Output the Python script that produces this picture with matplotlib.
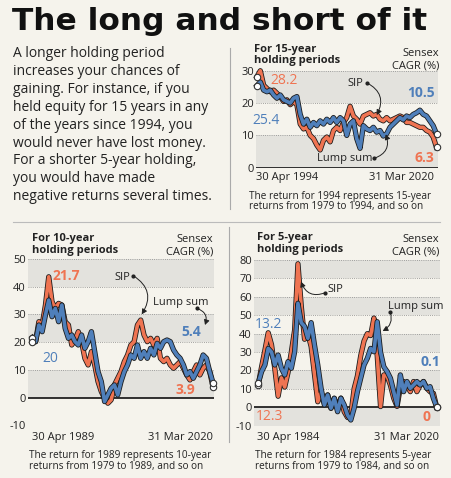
import numpy as np
import matplotlib
matplotlib.use("Agg")
import matplotlib.pyplot as plt
from matplotlib import patheffects as pe
from matplotlib.patches import FancyArrowPatch
from matplotlib.lines import Line2D

W, H = 452, 478
BG = "#f5f3ec"
BAND = "#e3e2dd"
ORANGE = "#ef7452"
BLUE = "#4f7fba"
INK = "#222222"
BODY_FONT = ["Open Sans", "DejaVu Sans"]

# Sensex CAGR (%), 15-year holding periods, Apr 1994 - Mar 2020
sip_15 = [28.2, 30.0, 25.5, 24.5, 23.5, 24.0, 23.0, 22.0, 20.5, 21.0,
          19.5, 20.5, 19.5, 13.5, 12.0, 12.5, 10.0, 9.0, 7.0, 5.5,
          8.5, 9.5, 8.0, 11.5, 12.5, 11.5, 14.0, 15.5, 19.0, 16.0,
          15.0, 13.5, 16.0, 16.5, 17.0, 16.0, 16.5, 15.0, 14.5, 15.5,
          14.5, 15.0, 15.5, 16.0, 15.5, 14.0, 14.0, 13.5, 13.0, 12.5,
          12.5, 11.5, 11.0, 9.5, 6.3]
lump_15 = [25.4, 26.5, 24.0, 23.5, 24.0, 22.5, 21.5, 22.5, 21.0, 20.5,
           20.0, 21.5, 22.0, 16.5, 13.5, 15.0, 12.5, 14.0, 13.0, 14.5,
           13.5, 15.0, 14.0, 15.5, 14.0, 15.5, 14.5, 10.0, 13.5, 14.5,
           9.0, 6.0, 13.0, 12.0, 11.5, 12.5, 11.0, 11.5, 9.8, 10.5,
           12.5, 13.5, 14.5, 15.5, 14.8, 16.0, 15.5, 16.5, 17.0, 17.8,
           16.5, 16.0, 14.5, 13.0, 10.5]

# 10-year holding periods, Apr 1989 - Mar 2020
sip_10 = [21.7, 20.2, 27.4, 26.2, 33.4, 43.6, 34.6, 32.2, 34.0, 33.4,
          27.4, 26.2, 19.0, 20.8, 23.8, 20.2, 14.2, 11.8, 16.6, 11.8,
          5.8, 2.2, -0.2, -2.0, -0.8, 4.6, 7.0, 9.4, 13.0, 15.4,
          19.0, 20.2, 26.2, 28.0, 22.6, 20.2, 21.4, 19.0, 21.4, 14.2,
          13.0, 14.2, 11.8, 10.6, 11.8, 13.0, 10.6, 8.2, 6.4, 9.4,
          11.8, 8.2, 10.6, 11.8, 9.4, 3.9]
lump_10 = [20.0, 20.2, 26.2, 23.8, 29.8, 35.2, 29.2, 32.2, 27.4, 33.4,
           25.0, 21.4, 22.6, 20.2, 19.0, 22.6, 17.8, 20.2, 23.8, 16.6,
           9.4, 5.8, -1.4, 1.0, 3.4, 4.6, 1.0, 5.8, 9.4, 11.8,
           15.4, 14.2, 19.0, 14.2, 16.6, 14.2, 17.8, 15.4, 19.6, 17.8,
           20.2, 20.8, 20.2, 17.2, 15.4, 14.2, 11.8, 8.2, 9.4, 7.0,
           9.4, 11.8, 15.4, 14.2, 9.4, 5.4]

# 5-year holding periods, Apr 1984 - Mar 2020
sip_5 = [12.3, 22, 31, 40.5, 34, 21, 6, 16, 11, 19,
         30, 42, 78, 55, 37, 40, 33, 18, 3, 8.5,
         2, 6.7, -0.5, 4.9, -0.5, 5, -2.4, -5.5, -4.5, 10,
         17, 28, 36, 40, 39, 48.5, 28, 0.4, 17.6, 17,
         12, 4.9, 0.5, 11, 14, 12, 8.5, 14, 8.5, 12,
         14, 10.3, 8.5, 7.6, 0]
lump_5 = [13.2, 19.4, 23, 32, 30, 23, 28.4, 21.2, 17.6, 24.8,
          21.2, 30.2, 56.5, 46, 44, 37.5, 46, 33.9, 23, 10.3,
          1.3, 6.7, -0.5, 4.9, -2.4, 4.9, 1.3, -4.2, -6.9, -0.5,
          8.5, 15.8, 23, 26.6, 32, 30.2, 46.5, 30, 22, 19.4,
          15.8, 8.5, 1.3, 17.6, 8.5, 14, 10.3, 12.1, 14, 12.1,
          14, 10.3, 11.2, 4.9, 0.1]

first_years = [1994, 1989, 1984]
last_year = 2020
yticks_15 = [0, 10, 20, 30]
yticks_10 = [-10, 0, 10, 20, 30, 40, 50]
yticks_5 = [-10, 0, 10, 20, 30, 40, 50, 60, 70, 80]

body_lines = [
    "A longer holding period",
    "increases your chances of",
    "gaining. For instance, if you",
    "held equity for 15 years in any",
    "of the years since 1994, you",
    "would never have lost money.",
    "For a shorter 5-year holding,",
    "you would have made",
    "negative returns several times.",
]

plt.rcParams["font.family"] = BODY_FONT
fig = plt.figure(figsize=(W / 100, H / 100), dpi=100)
fig.patch.set_facecolor(BG)


def fp(x, y):
    # top-left pixel position -> figure fraction
    return x / W, 1 - y / H


def txt(x, y, s, **kw):
    kw.setdefault("color", INK)
    fig.text(*fp(x, y), s, **kw)


def arrow(a, b, rad):
    fig.add_artist(FancyArrowPatch(fp(*a), fp(*b), transform=fig.transFigure,
                                   connectionstyle=f"arc3,rad={rad}",
                                   arrowstyle="-|>,head_length=3,head_width=1.6",
                                   lw=0.7, color=INK, shrinkA=0, shrinkB=0))
    fig.add_artist(Line2D([fp(*a)[0]], [fp(*a)[1]], marker="o", ms=2,
                          color=INK, transform=fig.transFigure))


def panel(box, data_px, first_year, sip, lump, yticks, ylim, grey):
    left, top, right, bottom = box
    ax = fig.add_axes([left / W, 1 - bottom / H, (right - left) / W, (bottom - top) / H])
    ax.set_facecolor("none")
    x0, x1 = first_year + 4 / 12, last_year + 3 / 12
    slope = (x1 - x0) / (data_px[1] - data_px[0])
    ax.set_xlim(x0 - (data_px[0] - left) * slope, x1 + (right - data_px[1]) * slope)
    ax.set_ylim(ylim)
    for lo in grey:
        ax.axhspan(lo, lo + 10, color=BAND, lw=0, zorder=0)
    for t in yticks:
        if t == 0:
            ax.axhline(0, color="#111111", lw=1.2, zorder=1)
        else:
            ax.axhline(t, color="#8a8a8a", lw=0.6, ls=(0, (1, 1.6)), zorder=1)
    outline = [pe.Stroke(linewidth=3.8, foreground="#1c1c1c"), pe.Normal()]
    for vals, col, z in [(sip, ORANGE, 3), (lump, BLUE, 4)]:
        xs = np.linspace(x0, x1, len(vals))
        ax.plot(xs, vals, color=col, lw=2.6, zorder=z, path_effects=outline,
                solid_joinstyle="round", clip_on=False)
    for vals in (sip, lump):
        ax.plot([x0, x1], [vals[0], vals[-1]], "o", ms=4.6, mfc="white",
                mec="#333333", mew=0.8, zorder=6, clip_on=False)
    ax.set_yticks(yticks)
    ax.set_yticklabels([str(t) for t in yticks])
    ax.set_xticks([])
    ax.tick_params(length=0, labelsize=8, pad=1.5, colors=INK)
    for s in ax.spines.values():
        s.set_visible(False)
    return ax


# title and intro
txt(12, 29.5, "The long and short of it", fontsize=22.5, fontweight="bold",
    family="DejaVu Sans", va="baseline", color="#111111")
for i, line in enumerate(body_lines):
    txt(13, 57.3 + i * 17.85, line, fontsize=10, va="baseline")

# separators
fig.add_artist(Line2D([230 / W] * 2, [1 - 48 / H, 1 - 209 / H], color="#aaaaaa", lw=0.8))
fig.add_artist(Line2D([229 / W] * 2, [1 - 227 / H, 1 - 442 / H], color="#aaaaaa", lw=0.8))
fig.add_artist(Line2D([13 / W, 440 / W], [1 - 222 / H] * 2, color="#bbbbbb", lw=0.8))

# 15-year panel
panel((256, 65.9, 438, 167.7), (257, 436.5), first_years[0], sip_15, lump_15,
      yticks_15, (0, 31.5), [0, 20])
txt(254, 52, "For 15-year", fontsize=8, fontweight="bold", va="baseline")
txt(254, 63.5, "holding periods", fontsize=8, fontweight="bold", va="baseline")
txt(439, 56, "Sensex", fontsize=8, ha="right", va="baseline")
txt(439, 68, "CAGR (%)", fontsize=8, ha="right", va="baseline")
txt(256.5, 180, "30 Apr 1994", fontsize=8, va="baseline")
txt(434.5, 180, "31 Mar 2020", fontsize=8, ha="right", va="baseline")
txt(249, 199, "The return for 1994 represents 15-year", fontsize=7.2, va="baseline")
txt(249, 209.5, "returns from 1979 to 1994, and so on", fontsize=7.2, va="baseline")
txt(284.5, 81, "28.2", fontsize=10, color=ORANGE, ha="center", va="center")
txt(265.7, 120, "25.4", fontsize=10, color=BLUE, ha="center", va="center")
txt(420.8, 93.3, "10.5", fontsize=10, color=BLUE, fontweight="bold", ha="center", va="center")
txt(424, 158.3, "6.3", fontsize=10, color=ORANGE, fontweight="bold", ha="center", va="center")
txt(355, 83, "SIP", fontsize=8, ha="center", va="center")
arrow((366.7, 82.7), (376.7, 115), -0.5)
txt(345, 158.3, "Lump sum", fontsize=8, ha="center", va="center")
arrow((374.3, 158.3), (385.7, 134.3), 0.5)

# 10-year panel
panel((28, 253.5, 214, 425.4), (32.3, 213), first_years[1], sip_10, lump_10,
      yticks_10, (-10, 52), [0, 20, 40])
txt(32, 241, "For 10-year", fontsize=8, fontweight="bold", va="baseline")
txt(32, 252.5, "holding periods", fontsize=8, fontweight="bold", va="baseline")
txt(213.3, 242.3, "Sensex", fontsize=8, ha="right", va="baseline")
txt(213.3, 254, "CAGR (%)", fontsize=8, ha="right", va="baseline")
txt(32.3, 440, "30 Apr 1989", fontsize=8, va="baseline")
txt(213.3, 440, "31 Mar 2020", fontsize=8, ha="right", va="baseline")
txt(29.3, 458.3, "The return for 1989 represents 10-year", fontsize=7.2, va="baseline")
txt(29.3, 469.5, "returns from 1979 to 1989, and so on", fontsize=7.2, va="baseline")
txt(66.7, 275.5, "21.7", fontsize=10, color=ORANGE, fontweight="bold", ha="center", va="center")
txt(50, 359, "20", fontsize=10, color=BLUE, ha="center", va="center")
txt(191.7, 332.5, "5.4", fontsize=10, color=BLUE, fontweight="bold", ha="center", va="center")
txt(185, 389.5, "3.9", fontsize=10, color=ORANGE, fontweight="bold", ha="center", va="center")
txt(122.5, 277, "SIP", fontsize=8, ha="center", va="center")
arrow((133.3, 275.7), (141.7, 314.3), -0.5)
txt(181, 303, "Lump sum", fontsize=8, ha="center", va="center")
arrow((196.7, 308.3), (205, 325), -0.5)

# 5-year panel
panel((254, 256.4, 440, 425.7), (258.3, 436.7), first_years[2], sip_5, lump_5,
      yticks_5, (-10, 82), [-10, 10, 30, 50, 70])
txt(257, 240, "For 5-year", fontsize=8, fontweight="bold", va="baseline")
txt(257, 251.7, "holding periods", fontsize=8, fontweight="bold", va="baseline")
txt(439.3, 241.7, "Sensex", fontsize=8, ha="right", va="baseline")
txt(439.3, 254, "CAGR (%)", fontsize=8, ha="right", va="baseline")
txt(257, 440, "30 Apr 1984", fontsize=8, va="baseline")
txt(439.3, 440, "31 Mar 2020", fontsize=8, ha="right", va="baseline")
txt(255.3, 458.3, "The return for 1984 represents 5-year", fontsize=7.2, va="baseline")
txt(255.3, 469.5, "returns from 1979 to 1984, and so on", fontsize=7.2, va="baseline")
txt(268.5, 324, "13.2", fontsize=10, color=BLUE, ha="center", va="center")
txt(269.3, 417, "12.3", fontsize=10, color=ORANGE, ha="center", va="center")
txt(430, 362, "0.1", fontsize=10, color=BLUE, fontweight="bold", ha="center", va="center")
txt(427, 417, "0", fontsize=10, color=ORANGE, fontweight="bold", ha="center", va="center")
txt(335, 289.7, "SIP", fontsize=8, ha="center", va="center")
arrow((325.3, 292.7), (301, 281.7), -0.5)
txt(416, 307, "Lump sum", fontsize=8, ha="center", va="center")
arrow((390.3, 312.3), (382.7, 331), -0.4)

fig.savefig("out.png", dpi=100, facecolor=BG)
